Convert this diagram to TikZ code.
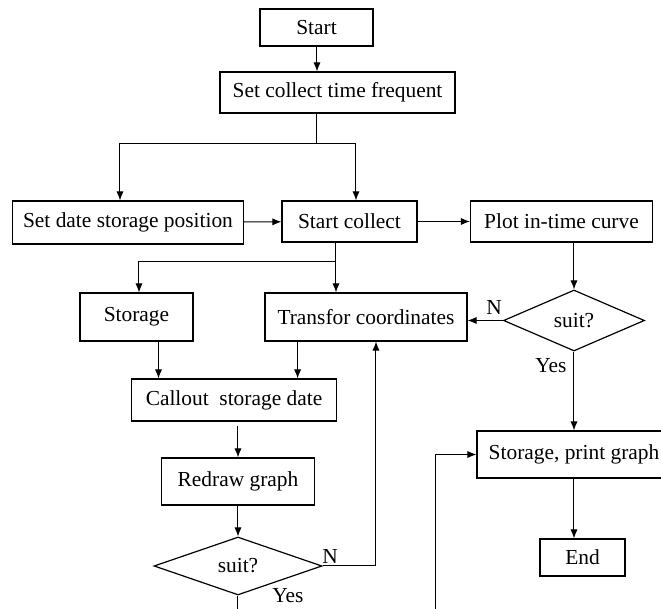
\documentclass[tikz,border=0pt]{standalone}
\usepackage{fontspec}
\setmainfont{Liberation Serif}
\usetikzlibrary{shapes.geometric,arrows.meta}

\begin{document}
\begin{tikzpicture}[x=0.5pt,y=-0.5pt,
	every node/.style={font=\fontsize{10.7}{12}\selectfont},
	box/.style={draw,line width=0.6pt,inner sep=0pt},
	decide/.style={draw,diamond,line width=0.6pt,inner sep=0pt},
	flow/.style={line width=0.5pt,-{Latex[length=4.5pt,width=3.6pt]}},
	link/.style={line width=0.5pt}]
\useasboundingbox (0,0) rectangle (661,609);

\foreach \name/\x/\y/\w/\h/\txt in {start/316.5/27.5/113/37/Start,
	setfreq/337.5/92.5/235/41/Set collect time frequent,
	setpos/128/222.5/231/43/Set date storage position,
	startcol/349.5/221.5/135/41/Start collect,
	plot/561.5/221.5/182/41/Plot in-time curve,
	storage/136.5/317/113/48/Storage,
	transfor/366/317/202/48/Transfor coordinates,
	callout/234/400/205.5/42/Callout\ \ storage date,
	redraw/238/481.5/152.5/47/Redraw graph,
	storprint/574/454.5/194/47/{Storage, print graph},
	end/582.5/557.5/85/37/End}
{
	\node[box,minimum width=\w*0.5pt,minimum height=\h*0.5pt] (\name) at (\x,\y) {\txt};
}

\node[decide,minimum width=70.5pt,minimum height=30.5pt] (suitA) at (574,320.5) {suit?};
\node[decide,minimum width=84pt,minimum height=29pt] (suitB) at (238,566) {suit?};

\coordinate (j1) at (317,144);
\coordinate (j2) at (336,262);
\coordinate (b1) at (238,615);
\coordinate (b2) at (435.5,615);

\draw[flow] (start.south -| j1) -- (setfreq.north -| j1);
\draw[link] (setfreq.south -| j1) -- (j1);
\draw[flow] (j1) -| ([xshift=-4pt]setpos.north);
\draw[flow] (j1) -| ([xshift=3.25pt]startcol.north);
\draw[flow] (setpos) -- (startcol);
\draw[flow] (startcol) -- (plot);

\draw[link] (startcol.south -| j2) -- (j2);
\draw[flow] (j2) -| ([xshift=1.25pt]storage.north);
\draw[flow] (j2) -- (j2 |- transfor.north);

\draw[flow] (suitA.north |- plot.south) -- (suitA.north);
\draw[flow] (suitA.west) -- (suitA.west -| transfor.east);
\node (nA) at (494,307) {N};
\draw[flow] (suitA.south) -- (storprint.north);
\node (yesA) at (551,366) {Yes};
\draw[flow] (storprint.south) -- (storprint.south |- end.north);

\draw[flow] ([xshift=11pt]storage.south) -- ([xshift=11pt]storage.south |- callout.north);
\draw[flow] ([xshift=-34.2pt]transfor.south) -- ([xshift=-34.2pt]transfor.south |- callout.north);
\draw[flow] ([yshift=-2pt]callout.south -| redraw.north) -- (redraw.north);
\draw[flow] (redraw) -- (suitB);

\draw[flow] (suitB.east) -| ([xshift=5pt]transfor.south);
\node (nB) at (330,556) {N};
\draw[link] (suitB.south) -- (b1);
\node (yesB) at (288,596) {Yes};

\draw[flow] (b2) |- (storprint.west);

\end{tikzpicture}
\end{document}
